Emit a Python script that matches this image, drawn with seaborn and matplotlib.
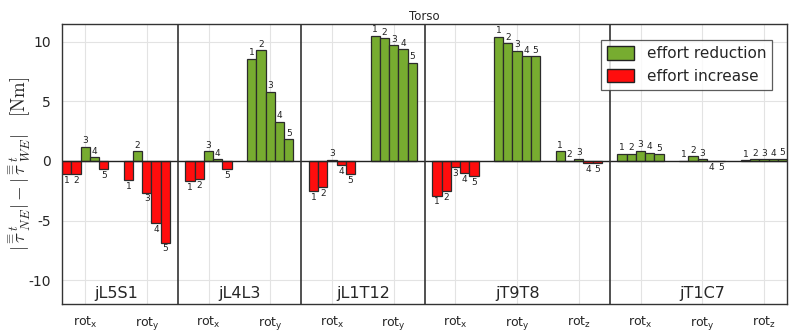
import numpy as np
import pandas as pd
import matplotlib
matplotlib.use('Agg')
import matplotlib.pyplot as plt
import seaborn as sns
from matplotlib.patches import Patch

# joints and the rotation axes shown for each of them
joints = ['jL5S1', 'jL4L3', 'jL1T12', 'jT9T8', 'jT1C7']
axes_per_joint = [['x', 'y'], ['x', 'y'], ['x', 'y'], ['x', 'y', 'z'], ['x', 'y', 'z']]
trials = [1, 2, 3, 4, 5]

# torque difference per trial, [Nm]
jL5S1_x = [-1.1, -1.1, 1.2, 0.33, -0.7]
jL5S1_y = [-1.6, 0.84, -2.65, -5.2, -6.85]
jL4L3_x = [-1.7, -1.5, 0.8, 0.17, -0.7]
jL4L3_y = [8.6, 9.3, 5.83, 3.3, 1.84]
jL1T12_x = [-2.5, -2.2, 0.1, -0.35, -1.1]
jL1T12_y = [10.5, 10.3, 9.7, 9.4, 8.26]
jT9T8_x = [-2.9, -2.5, -0.5, -1.0, -1.3]
jT9T8_y = [10.43, 9.9, 9.26, 8.8, 8.8]
jT9T8_z = [0.84, 0.02, 0.2, -0.2, -0.15]
jT1C7_x = [0.6, 0.6, 0.87, 0.7, 0.55]
jT1C7_y = [0.02, 0.4, 0.15, -0.03, -0.03]
jT1C7_z = [0.05, 0.15, 0.15, 0.15, 0.2]

series = [jL5S1_x, jL5S1_y, jL4L3_x, jL4L3_y, jL1T12_x, jL1T12_y,
          jT9T8_x, jT9T8_y, jT9T8_z, jT1C7_x, jT1C7_y, jT1C7_z]

slots = []
for j, rots in zip(joints, axes_per_joint):
    for r in rots:
        slots.append(j + '_' + r)

rows = []
for s, vals in zip(slots, series):
    for t, v in zip(trials, vals):
        rows.append({'slot': s, 'trial': t, 'value': v})
df = pd.DataFrame(rows)

green = '#77ac30'
red = '#ff0d0d'

sns.set_style('white')
fig = plt.figure(figsize=(7.89, 3.31), dpi=100)
ax = fig.add_axes([0.0786, 0.0816, 0.919, 0.846])

sns.barplot(data=df, x='slot', y='value', hue='trial', order=slots,
            dodge=True, width=0.75, legend=False, ax=ax,
            edgecolor='#2b2b2b', linewidth=0.9, errorbar=None)

# colour by sign, number every bar
for t, cont in zip(trials, ax.containers):
    for p in cont.patches:
        h = p.get_height()
        p.set_facecolor(green if h >= 0 else red)
        cx = p.get_x() + p.get_width() / 2
        if h >= 0:
            ax.text(cx, h + 0.12, str(t), ha='center', va='bottom', fontsize=6.5, color='#222')
        else:
            ax.text(cx, h - 0.15, str(t), ha='center', va='top', fontsize=6.5, color='#222')

ax.set_xlim(-0.375, len(slots) - 0.625)
ax.set_ylim(-12, 11.5)
ax.set_yticks([-10, -5, 0, 5, 10])
ax.set_yticklabels(['-10', '-5', '0', '5', '10'], fontsize=10)
ax.set_xticks(range(len(slots)))
ax.set_xticklabels(['rot$_{\\mathrm{x}}$' if s.endswith('x') else
                    'rot$_{\\mathrm{y}}$' if s.endswith('y') else
                    'rot$_{\\mathrm{z}}$' for s in slots], fontsize=9)
ax.tick_params(direction='in', length=4, color='#333', pad=8)
ax.grid(True, color='#e3e3e3', linewidth=0.8)
ax.set_axisbelow(True)
for sp in ax.spines.values():
    sp.set_color('#333')
    sp.set_linewidth(1.0)

ax.axhline(0, color='#222', linewidth=1.0, zorder=1.5)

# group separators and joint names
start = 0
for j, rots in zip(joints, axes_per_joint):
    n = len(rots)
    ax.text(start + (n - 1) / 2, -11.1, j, ha='center', va='center', fontsize=11.5)
    if start + n < len(slots):
        ax.axvline(start + n - 0.5, color='#333', linewidth=1.2)
    start += n

ax.set_xlabel('')
ax.set_ylabel(r'$|\overset{\equiv}{\tau}^{t}_{NE}|-|\overset{\equiv}{\tau}^{t}_{WE}|\quad[\mathrm{Nm}]$',
              fontsize=13.5, math_fontfamily='cm', labelpad=1, va='center')
ax.yaxis.set_label_coords(-0.058, 0.5)
ax.set_title('Torso', fontsize=8.5, pad=3)

handles = [Patch(facecolor=green, edgecolor='#222', label='effort reduction'),
           Patch(facecolor=red, edgecolor='#222', label='effort increase')]
leg = ax.legend(handles=handles, loc='upper right', fontsize=11, frameon=True,
                fancybox=False, edgecolor='#333', bbox_to_anchor=(0.99, 0.97),
                handlelength=1.8, handleheight=1.0, borderpad=0.4)
leg.get_frame().set_linewidth(0.9)

fig.savefig('out.png', dpi=100)
